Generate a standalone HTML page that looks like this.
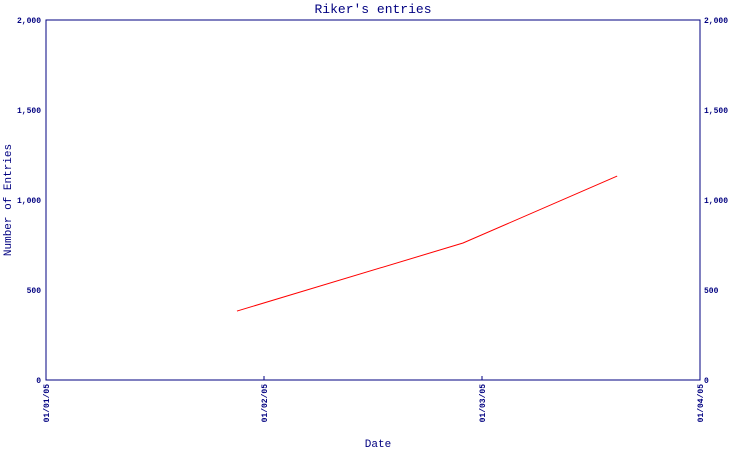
<!DOCTYPE html>
<html><head><meta charset="utf-8"><style>
body{margin:0;background:#fff;}
svg text{font-family:"Liberation Mono","DejaVu Sans Mono",monospace;fill:#000080;}
</style></head><body>
<svg id="chart" width="750" height="450" xmlns="http://www.w3.org/2000/svg">
<text x="373" y="13" font-size="13" text-anchor="middle">Riker's entries</text>
<g id="axes"></g>
<polyline id="series" fill="none" stroke="#ff0000" stroke-width="1"/>
<text x="378" y="447" font-size="11" text-anchor="middle">Date</text>
<text transform="translate(11,200) rotate(-90)" font-size="11" text-anchor="middle">Number of Entries</text>
</svg>
<script>
const xTickLabels = ["01/01/05","01/02/05","01/03/05","01/04/05"];
const yTickValues = [0,500,1000,1500,2000];
const yTickLabels = ["0","500","1,000","1,500","2,000"];
const pointMonths = [0.876,1.913,2.62];
const entryValues = [383,761,1133];

const L=46,R=700,T=20,B=380;
const xs=m=>L+(R-L)*m/3;
const ys=v=>B-(B-T)*v/2000;
const ns="http://www.w3.org/2000/svg";
const ax=document.getElementById('axes');
function mk(tag,attrs){const e=document.createElementNS(ns,tag);for(const k in attrs)e.setAttribute(k,attrs[k]);ax.appendChild(e);return e;}
const frame=mk('rect',{x:L,y:T,width:R-L,height:B-T,fill:'none',stroke:'#000080','stroke-width':1});


yTickValues.forEach((v,i)=>{
  const y=ys(v);
  const t1=mk('text',{x:L-5,y:y+3,'font-size':8,'text-anchor':'end','font-weight':'bold'});
  t1.textContent=yTickLabels[i];
  
  
  const t2=mk('text',{x:R+4,y:y+3,'font-size':8,'font-weight':'bold'});
  t2.textContent=yTickLabels[i];
  
  
});
xTickLabels.forEach((s,i)=>{
  const x=xs(i);
  const tk=mk('line',{x1:x,x2:x,y1:B-4,y2:B,stroke:'#000080'});
  
  
  const t=mk('text',{transform:`translate(${x+3},${B+4}) rotate(-90)`,'font-size':8,'text-anchor':'end','font-weight':'bold'});
  t.textContent=s;
  
  
});
document.getElementById('series').setAttribute('points',pointMonths.map((m,i)=>xs(m)+','+ys(entryValues[i])).join(' '));
</script>
</body></html>
